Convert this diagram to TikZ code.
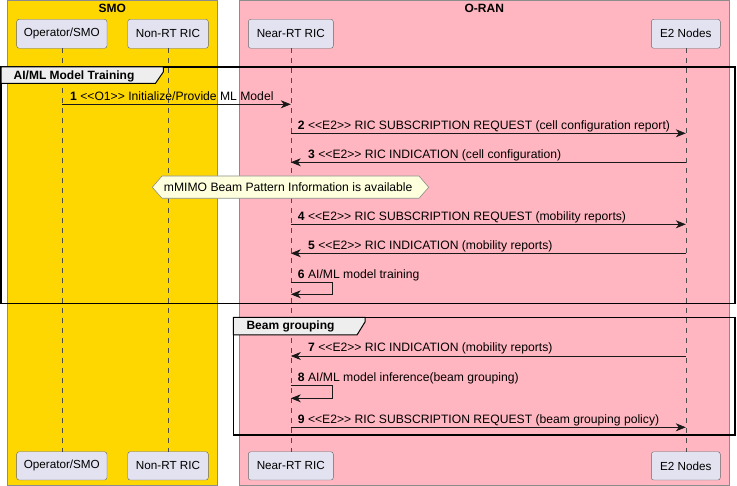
\documentclass[tikz,border=0pt]{standalone}
\usepackage{fontspec}
\setmainfont{Liberation Sans}
\usetikzlibrary{arrows.meta}
\definecolor{smogold}{HTML}{FFD700}
\definecolor{ranpink}{HTML}{FFB6C1}
\definecolor{partfill}{HTML}{E2E2F0}
\definecolor{notefill}{HTML}{FEFFDD}
\definecolor{tabfill}{HTML}{EEEEEE}

\begin{document}
\begin{tikzpicture}[x=1pt,y=-1pt]
\tikzstyle{part} = [draw=black!60,fill=partfill,rounded corners=2.5pt,inner sep=0pt,minimum height=29pt,font=\fontsize{11.7}{14}\selectfont]
\tikzstyle{msg} = [anchor=base west,inner sep=0pt,font=\fontsize{12.15}{14}\selectfont]
\tikzstyle{call} = [arrows={-Stealth[length=10pt,width=8pt,inset=3pt]},black!90,line width=0.8pt]
\tikzstyle{life} = [dash pattern=on 5pt off 5pt,black!70,line width=0.5pt]
\tikzstyle{grp} = [draw=black!45,line width=0.6pt]
\tikzstyle{frame} = [draw=black,line width=1.5pt]
\tikzstyle{tab} = [fill=tabfill,draw=black,line width=1pt]
\tikzstyle{title} = [font=\bfseries\fontsize{12}{14}\selectfont,inner sep=0pt]
\useasboundingbox (0,0) rectangle (737,486);

% boxes
\filldraw[grp,fill=smogold] (7.7,0.4) rectangle (217,485);
\filldraw[grp,fill=ranpink] (239,0.4) rectangle (729.7,485);
\node[title] (smo) at (112.3,8) {SMO};
\node[title] (oran) at (484.3,8) {O-RAN};

% participants
\node[part,minimum width=90.3pt] (opt) at (61.8,33.8) {Operator/SMO};
\node[part,minimum width=80.6pt] (nonrt) at (168,33.8) {Non-RT RIC};
\node[part,minimum width=85pt] (nrt) at (290.8,33.8) {Near-RT RIC};
\node[part,minimum width=69pt] (e2n) at (685.8,33.8) {E2 Nodes};
\node[part,minimum width=90.3pt,minimum height=28.3pt] (optb) at (61.8,465.9) {Operator/SMO};
\node[part,minimum width=80.6pt,minimum height=28.3pt] (nonrtb) at (168,465.9) {Non-RT RIC};
\node[part,minimum width=85pt,minimum height=28.3pt] (nrtb) at (290.8,465.9) {Near-RT RIC};
\node[part,minimum width=69pt,minimum height=28.3pt] (e2nb) at (685.8,465.9) {E2 Nodes};

% lifelines
\draw[life] (opt.south) -- (optb.north);
\draw[life] (nonrt.south) -- (nonrtb.north);
\draw[life] (nrt.south) -- (nrtb.north);
\draw[life] (e2n.south) -- (e2nb.north);

% groups
\draw[frame] (1,67) rectangle (735,303.3);
\filldraw[tab] (1,67) -- (163.3,67) -- (163.3,72) -- (155.5,83.3) -- (1,83.3) -- cycle;
\node[title] (train) at (74,76) {AI/ML Model Training};
\draw[frame] (233.3,317.3) rectangle (735,435);
\filldraw[tab] (233.3,317.3) -- (365,317.3) -- (365,322) -- (357,335) -- (233.3,335) -- cycle;
\node[title] (beam) at (290.5,326.7) {Beam grouping};

% messages
\coordinate (opt1) at (61.8,104.3);
\coordinate (nrt1) at (290.8,104.3);
\draw[call] (opt1) -- (nrt1);
\node[msg] (m1) at (70,100.3) {\textbf{1} <{}<O1>{}> Initialize/Provide ML Model};

\coordinate (nrt2) at (290.8,133.3);
\coordinate (e2n2) at (685.8,133.3);
\draw[call] (nrt2) -- (e2n2);
\node[msg] (m2) at (297.7,129.3) {\textbf{2} <{}<E2>{}> RIC SUBSCRIPTION REQUEST (cell configuration report)};

\coordinate (e2n3) at (685.8,162.3);
\coordinate (nrt3) at (290.8,162.3);
\draw[call] (e2n3) -- (nrt3);
\node[msg] (m3) at (308,158.3) {\textbf{3} <{}<E2>{}> RIC INDICATION (cell configuration)};

\filldraw[draw=black!45,fill=notefill,line width=0.6pt] (152.3,187.3) -- (162,176) -- (419,176) -- (428.7,187.3) -- (419,198.3) -- (162,198.3) -- cycle;
\node[font=\fontsize{12.15}{14}\selectfont,inner sep=0pt] (note) at (288.2,187.3) {mMIMO Beam Pattern Information is available};

\coordinate (nrt4) at (290.8,224.3);
\coordinate (e2n4) at (685.8,224.3);
\draw[call] (nrt4) -- (e2n4);
\node[msg] (m4) at (297.7,220.3) {\textbf{4} <{}<E2>{}> RIC SUBSCRIPTION REQUEST (mobility reports)};

\coordinate (e2n5) at (685.8,253.3);
\coordinate (nrt5) at (290.8,253.3);
\draw[call] (e2n5) -- (nrt5);
\node[msg] (m5) at (308,249.3) {\textbf{5} <{}<E2>{}> RIC INDICATION (mobility reports)};

\coordinate (nrt6) at (290.8,282.3);
\coordinate (nrt6b) at (290.8,294.3);
\draw[call] (nrt6) -- ++(42,0) |- (nrt6b);
\node[msg] (m6) at (297.7,278.3) {\textbf{6} AI/ML model training};

\coordinate (e2n7) at (685.8,356);
\coordinate (nrt7) at (290.8,356);
\draw[call] (e2n7) -- (nrt7);
\node[msg] (m7) at (308,352) {\textbf{7} <{}<E2>{}> RIC INDICATION (mobility reports)};

\coordinate (nrt8) at (290.8,385.7);
\coordinate (nrt8b) at (290.8,398.3);
\draw[call] (nrt8) -- ++(42,0) |- (nrt8b);
\node[msg] (m8) at (297.7,381.7) {\textbf{8} AI/ML model inference(beam grouping)};

\coordinate (nrt9) at (290.8,427.3);
\coordinate (e2n9) at (685.8,427.3);
\draw[call] (nrt9) -- (e2n9);
\node[msg] (m9) at (297.7,423.3) {\textbf{9} <{}<E2>{}> RIC SUBSCRIPTION REQUEST (beam grouping policy)};
\end{tikzpicture}
\end{document}
